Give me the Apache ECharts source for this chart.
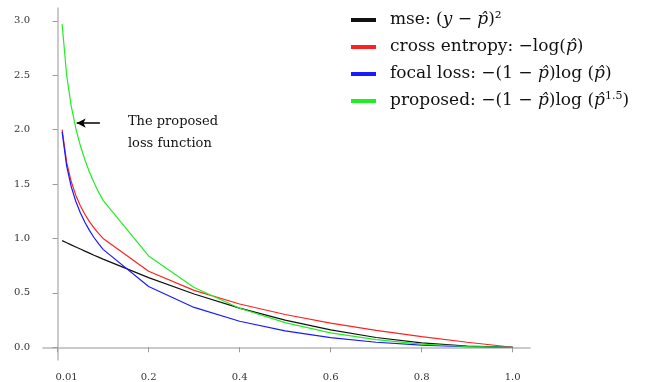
<!DOCTYPE html>
<html>
<head>
<meta charset="utf-8">
<script src="https://cdn.jsdelivr.net/npm/echarts@6/dist/echarts.min.js"></script>
<style>html,body{margin:0;padding:0;background:#fff}#c{width:655px;height:382px}</style>
</head>
<body>
<div id="c"></div>
<script>
var probs = [0.01,0.02,0.03,0.04,0.05,0.06,0.07,0.08,0.09,0.1,0.2,0.3,0.4,0.5,0.6,0.7,0.8,0.9,1.0];
var mseVals = [0.98,0.96,0.941,0.922,0.903,0.884,0.865,0.846,0.828,0.81,0.64,0.49,0.36,0.25,0.16,0.09,0.04,0.01,0];
var ceVals = [2.0,1.699,1.523,1.398,1.301,1.222,1.155,1.097,1.046,1.0,0.699,0.523,0.398,0.301,0.222,0.155,0.097,0.046,0];
var focalVals = [1.98,1.665,1.477,1.342,1.236,1.149,1.074,1.009,0.952,0.9,0.559,0.366,0.239,0.151,0.089,0.046,0.019,0.005,0];
var proposedVals = [2.97,2.498,2.216,2.013,1.854,1.723,1.611,1.514,1.428,1.35,0.839,0.549,0.359,0.226,0.133,0.07,0.029,0.007,0];
var xTicks = [0,0.2,0.4,0.6,0.8,1.0];
var xTickLabels = ['0.01','0.2','0.4','0.6','0.8','1.0'];
var yTicks = [0,0.5,1.0,1.5,2.0,2.5,3.0];
var seriesNames = ['mse','cross entropy','focal loss','proposed'];
var seriesColors = ['#111111','#ff2222','#1a1aff','#22ee22'];

function pairs(vals){ return probs.map(function(p,i){ return [p, vals[i]]; }); }

var legendText = {
  'mse': 'mse: ({i|y} − {i|p\u0302})²',
  'cross entropy': 'cross entropy: −log({i|p\u0302})',
  'focal loss': 'focal loss: −(1 − {i|p\u0302})log ({i|p\u0302})',
  'proposed': 'proposed: −(1 − {i|p\u0302})log ({i|p\u0302}{s|1.5})'
};
var serif = '"DejaVu Serif", "Liberation Serif", serif';
var allVals = [mseVals, ceVals, focalVals, proposedVals];

var chart = echarts.init(document.getElementById('c'), null, {renderer:'canvas'});
var series = seriesNames.map(function(n, k){
  return {
    name: n, type: 'line', data: pairs(allVals[k]), showSymbol: false, symbol: 'none',
    lineStyle: {color: seriesColors[k], width: 1.2}, itemStyle: {color: seriesColors[k]},
    animation: false, z: 2 + k
  };
});
series[3].markLine = {
  silent: true, symbol: ['none','arrow'], symbolSize: [7, 9],
  label: {show: false},
  lineStyle: {color: '#000', width: 1.5, type: 'solid'},
  data: [[{coord: [0.093, 2.06]}, {coord: [0.042, 2.06]}]]
};

chart.setOption({
  animation: false,
  grid: {left: 43, right: 125, top: 8, bottom: 22},
  xAxis: {
    type: 'value', min: -0.032, max: 1.038,
    axisLine: {show: true, lineStyle: {color: '#b8b8b8', width: 1.5}},
    axisTick: {show: true, customValues: xTicks, length: 5, lineStyle: {color: '#999'}},
    axisLabel: {customValues: xTicks, color: '#333', fontFamily: serif, fontSize: 10, margin: 12,
      rich: {f: {fontFamily: serif, fontSize: 10, color: '#333', padding: [0, 0, 0, 18]}},
      formatter: function(v){ var i = xTicks.indexOf(v); if (i === 0) return '{f|' + xTickLabels[0] + '}'; return i >= 0 ? xTickLabels[i] : ''; }},
    splitLine: {show: false}
  },
  yAxis: {
    type: 'value', min: -0.117, max: 3.118,
    axisLine: {show: true, lineStyle: {color: '#b8b8b8', width: 1.5}},
    axisTick: {show: true, customValues: yTicks, length: 5, lineStyle: {color: '#999'}},
    axisLabel: {customValues: yTicks, color: '#333', fontFamily: serif, fontSize: 10, margin: 13,
      formatter: function(v){ return v.toFixed(1); }},
    splitLine: {show: false}
  },
  legend: {
    orient: 'vertical', left: 346, top: 5, itemGap: 7, itemWidth: 25, itemHeight: 4,
    icon: 'rect',
    data: seriesNames,
    formatter: function(n){ return legendText[n]; },
    textStyle: {fontFamily: serif, fontSize: 17, color: '#111', lineHeight: 20, padding: [0, 0, 0, 9],
      rich: {
        i: {fontFamily: serif, fontSize: 17, fontStyle: 'italic', color: '#111', lineHeight: 20},
        s: {fontFamily: serif, fontSize: 11, color: '#111', lineHeight: 20, verticalAlign: 'top'}
      }}
  },
  graphic: [{
    type: 'text', right: 655 - 218, top: 111,
    style: {text: 'The proposed\nloss function', font: '13px ' + serif, fill: '#111', align: 'right', lineHeight: 22}
  }],
  series: series
});
</script>
</body>
</html>
